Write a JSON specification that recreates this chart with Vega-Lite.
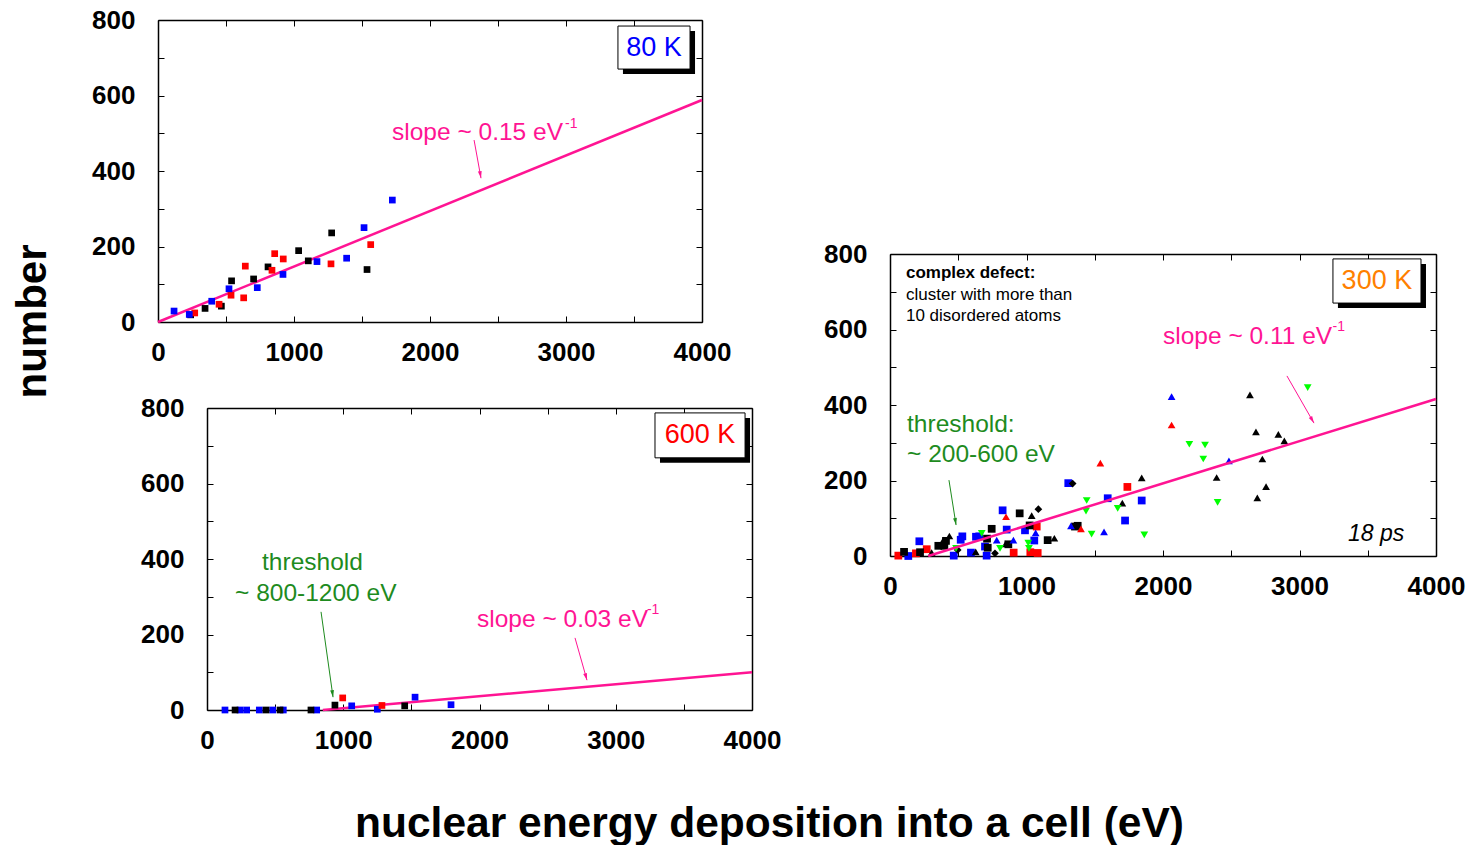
{
  "$schema": "https://vega.github.io/schema/vega-lite/v6.json",
  "width": 1477,
  "height": 845,
  "autosize": "none",
  "padding": 0,
  "background": "white",
  "config": {
    "view": {"stroke": null},
    "font": "Liberation Sans",
    "axis": {
      "domainColor": "black", "domainWidth": 1.5, "tickColor": "black", "tickWidth": 1, "tickSize": -6,
      "labelColor": "black", "labelFont": "Liberation Sans", "labelFontSize": 26, "labelFontWeight": "bold",
      "labelFlush": false, "labelOverlap": false, "grid": false, "titleColor": "black", "titleFont": "Liberation Sans"
    }
  },
  "datasets": {
    "p80": [
      {"set": "set 1", "x": 240, "y": 19}, {"set": "set 1", "x": 346, "y": 36}, {"set": "set 1", "x": 466, "y": 42},
      {"set": "set 1", "x": 541, "y": 109}, {"set": "set 1", "x": 703, "y": 114}, {"set": "set 1", "x": 809, "y": 146},
      {"set": "set 1", "x": 1034, "y": 189}, {"set": "set 1", "x": 1105, "y": 162}, {"set": "set 1", "x": 1277, "y": 236},
      {"set": "set 1", "x": 1537, "y": 139},
      {"set": "set 2", "x": 270, "y": 24}, {"set": "set 2", "x": 449, "y": 47}, {"set": "set 2", "x": 537, "y": 71},
      {"set": "set 2", "x": 630, "y": 64}, {"set": "set 2", "x": 642, "y": 148}, {"set": "set 2", "x": 838, "y": 137},
      {"set": "set 2", "x": 858, "y": 181}, {"set": "set 2", "x": 921, "y": 167}, {"set": "set 2", "x": 1272, "y": 154},
      {"set": "set 2", "x": 1564, "y": 205},
      {"set": "set 3", "x": 118, "y": 29}, {"set": "set 3", "x": 230, "y": 20}, {"set": "set 3", "x": 395, "y": 55},
      {"set": "set 3", "x": 522, "y": 88}, {"set": "set 3", "x": 730, "y": 91}, {"set": "set 3", "x": 919, "y": 126},
      {"set": "set 3", "x": 1169, "y": 160}, {"set": "set 3", "x": 1387, "y": 169}, {"set": "set 3", "x": 1515, "y": 250},
      {"set": "set 3", "x": 1723, "y": 323}
    ],
    "p600": [
      {"set": "set 3", "x": 132, "y": 0}, {"set": "set 3", "x": 242, "y": 0}, {"set": "set 3", "x": 291, "y": 0},
      {"set": "set 3", "x": 384, "y": 0}, {"set": "set 3", "x": 482, "y": 0}, {"set": "set 3", "x": 560, "y": 0},
      {"set": "set 3", "x": 805, "y": 0}, {"set": "set 3", "x": 1062, "y": 11}, {"set": "set 3", "x": 1250, "y": 2},
      {"set": "set 3", "x": 1527, "y": 34}, {"set": "set 3", "x": 1791, "y": 14},
      {"set": "set 1", "x": 206, "y": 0}, {"set": "set 1", "x": 433, "y": 0}, {"set": "set 1", "x": 536, "y": 0},
      {"set": "set 1", "x": 763, "y": 0}, {"set": "set 1", "x": 939, "y": 13}, {"set": "set 1", "x": 1451, "y": 11},
      {"set": "set 2", "x": 996, "y": 32}, {"set": "set 2", "x": 1284, "y": 12}
    ],
    "p300": [
      {"set": "set 3", "kind": "k1", "x": 215, "y": 39}, {"set": "set 3", "kind": "k1", "x": 134, "y": 0},
      {"set": "set 3", "kind": "k1", "x": 530, "y": 52}, {"set": "set 3", "kind": "k1", "x": 518, "y": 43},
      {"set": "set 3", "kind": "k1", "x": 630, "y": 51}, {"set": "set 3", "kind": "k1", "x": 654, "y": 52},
      {"set": "set 3", "kind": "k1", "x": 593, "y": 9}, {"set": "set 3", "kind": "k1", "x": 696, "y": 25},
      {"set": "set 3", "kind": "k1", "x": 708, "y": 1}, {"set": "set 3", "kind": "k1", "x": 467, "y": 1},
      {"set": "set 3", "kind": "k1", "x": 825, "y": 121}, {"set": "set 3", "kind": "k1", "x": 855, "y": 70},
      {"set": "set 3", "kind": "k1", "x": 989, "y": 68}, {"set": "set 3", "kind": "k1", "x": 1057, "y": 41},
      {"set": "set 3", "kind": "k1", "x": 1306, "y": 193}, {"set": "set 3", "kind": "k1", "x": 1595, "y": 153},
      {"set": "set 3", "kind": "k1", "x": 1722, "y": 94}, {"set": "set 3", "kind": "k1", "x": 1844, "y": 147},
      {"set": "set 2", "kind": "k1", "x": 61, "y": 1}, {"set": "set 2", "kind": "k1", "x": 269, "y": 18},
      {"set": "set 2", "kind": "k1", "x": 190, "y": 7}, {"set": "set 2", "kind": "k1", "x": 906, "y": 9},
      {"set": "set 2", "kind": "k1", "x": 1075, "y": 78}, {"set": "set 2", "kind": "k1", "x": 1082, "y": 8},
      {"set": "set 2", "kind": "k1", "x": 1028, "y": 10}, {"set": "set 2", "kind": "k1", "x": 1739, "y": 183},
      {"set": "set 1", "kind": "k1", "x": 103, "y": 11}, {"set": "set 1", "kind": "k1", "x": 220, "y": 10},
      {"set": "set 1", "kind": "k1", "x": 354, "y": 27}, {"set": "set 1", "kind": "k1", "x": 410, "y": 40},
      {"set": "set 1", "kind": "k1", "x": 398, "y": 27}, {"set": "set 1", "kind": "k1", "x": 745, "y": 72},
      {"set": "set 1", "kind": "k1", "x": 711, "y": 46}, {"set": "set 1", "kind": "k1", "x": 716, "y": 22},
      {"set": "set 1", "kind": "k1", "x": 867, "y": 31}, {"set": "set 1", "kind": "k1", "x": 950, "y": 113},
      {"set": "set 1", "kind": "k1", "x": 1023, "y": 81}, {"set": "set 1", "kind": "k1", "x": 1155, "y": 42},
      {"set": "set 1", "kind": "k1", "x": 1355, "y": 78}, {"set": "set 1", "kind": "k1", "x": 1375, "y": 80},
      {"set": "set 1", "kind": "k2", "x": 305, "y": 9}, {"set": "set 1", "kind": "k2", "x": 391, "y": 42},
      {"set": "set 1", "kind": "k2", "x": 435, "y": 53}, {"set": "set 1", "kind": "k2", "x": 628, "y": 11},
      {"set": "set 1", "kind": "k2", "x": 847, "y": 32}, {"set": "set 1", "kind": "k2", "x": 1038, "y": 107},
      {"set": "set 1", "kind": "k2", "x": 1204, "y": 47}, {"set": "set 1", "kind": "k2", "x": 1702, "y": 140},
      {"set": "set 1", "kind": "k2", "x": 1844, "y": 207}, {"set": "set 1", "kind": "k2", "x": 2393, "y": 208},
      {"set": "set 1", "kind": "k2", "x": 2637, "y": 427}, {"set": "set 1", "kind": "k2", "x": 2681, "y": 329},
      {"set": "set 1", "kind": "k2", "x": 2728, "y": 257}, {"set": "set 1", "kind": "k2", "x": 2755, "y": 184},
      {"set": "set 1", "kind": "k2", "x": 2691, "y": 154}, {"set": "set 1", "kind": "k2", "x": 2845, "y": 322},
      {"set": "set 1", "kind": "k2", "x": 2889, "y": 305},
      {"set": "set 1", "kind": "k4", "x": 1087, "y": 124}, {"set": "set 1", "kind": "k4", "x": 1338, "y": 192},
      {"set": "set 1", "kind": "k4", "x": 769, "y": 7}, {"set": "set 1", "kind": "k4", "x": 496, "y": 16},
      {"set": "set 3", "kind": "k2", "x": 782, "y": 42}, {"set": "set 3", "kind": "k2", "x": 904, "y": 42},
      {"set": "set 3", "kind": "k2", "x": 1067, "y": 61}, {"set": "set 3", "kind": "k2", "x": 1326, "y": 80},
      {"set": "set 3", "kind": "k2", "x": 1568, "y": 64}, {"set": "set 3", "kind": "k2", "x": 2063, "y": 422},
      {"set": "set 3", "kind": "k2", "x": 2483, "y": 252},
      {"set": "set 2", "kind": "k2", "x": 850, "y": 104}, {"set": "set 2", "kind": "k2", "x": 1399, "y": 72},
      {"set": "set 2", "kind": "k2", "x": 1541, "y": 246}, {"set": "set 2", "kind": "k2", "x": 2063, "y": 347},
      {"set": "set 4", "kind": "k3", "x": 672, "y": 60}, {"set": "set 4", "kind": "k3", "x": 484, "y": 20},
      {"set": "set 4", "kind": "k3", "x": 806, "y": 20}, {"set": "set 4", "kind": "k3", "x": 1013, "y": 34},
      {"set": "set 4", "kind": "k3", "x": 1018, "y": 20}, {"set": "set 4", "kind": "k3", "x": 1441, "y": 147},
      {"set": "set 4", "kind": "k3", "x": 1436, "y": 119}, {"set": "set 4", "kind": "k3", "x": 1477, "y": 58},
      {"set": "set 4", "kind": "k3", "x": 1668, "y": 126}, {"set": "set 4", "kind": "k3", "x": 1863, "y": 56},
      {"set": "set 4", "kind": "k3", "x": 2193, "y": 296}, {"set": "set 4", "kind": "k3", "x": 2308, "y": 294},
      {"set": "set 4", "kind": "k3", "x": 2295, "y": 257}, {"set": "set 4", "kind": "k3", "x": 2400, "y": 142},
      {"set": "set 4", "kind": "k3", "x": 3060, "y": 446}
    ],
    "fits": [
      {"panel": "80 K", "x": 0, "y": 0}, {"panel": "80 K", "x": 4000, "y": 588},
      {"panel": "600 K", "x": 850, "y": 0}, {"panel": "600 K", "x": 4000, "y": 100},
      {"panel": "300 K", "x": 280, "y": 0}, {"panel": "300 K", "x": 4000, "y": 416}
    ],
    "boxes": [
      {"panel": "80 K", "x": 3382, "x2": 3912, "y": 784, "y2": 670},
      {"panel": "600 K", "x": 3288, "x2": 3949, "y": 787, "y2": 668},
      {"panel": "300 K", "x": 3245, "x2": 3890, "y": 787, "y2": 670}
    ],
    "arrows": [
      {"panel": "80 K", "kind": "slope", "x": 2324, "y": 482, "x2": 2375, "y2": 381},
      {"panel": "600 K", "kind": "slope", "x": 2701, "y": 191, "x2": 2789, "y2": 79},
      {"panel": "600 K", "kind": "threshold", "x": 837, "y": 260, "x2": 925, "y2": 34},
      {"panel": "300 K", "kind": "slope", "x": 2908, "y": 477, "x2": 3106, "y2": 352},
      {"panel": "300 K", "kind": "threshold", "x": 432, "y": 201, "x2": 484, "y2": 82}
    ],
    "notes": [
      {"panel": "80 K", "kind": "temp", "text": "80 K", "x": 3647, "y": 727},
      {"panel": "80 K", "kind": "slope", "text": "slope ~ 0.15 eV", "x": 1721, "y": 501},
      {"panel": "80 K", "kind": "sup", "text": "-1", "x": 2993, "y": 524},
      {"panel": "600 K", "kind": "temp", "text": "600 K", "x": 3618, "y": 728},
      {"panel": "600 K", "kind": "slope", "text": "slope ~ 0.03 eV", "x": 1982, "y": 238},
      {"panel": "600 K", "kind": "sup", "text": "-1", "x": 3229, "y": 265},
      {"panel": "600 K", "kind": "threshold", "text": "threshold", "x": 404, "y": 389},
      {"panel": "600 K", "kind": "threshold", "text": "~ 800-1200 eV", "x": 206, "y": 307},
      {"panel": "300 K", "kind": "temp", "text": "300 K", "x": 3567, "y": 728},
      {"panel": "300 K", "kind": "slope", "text": "slope ~ 0.11 eV", "x": 2000, "y": 580},
      {"panel": "300 K", "kind": "sup", "text": "-1", "x": 3242, "y": 607},
      {"panel": "300 K", "kind": "threshold", "text": "threshold:", "x": 125, "y": 347},
      {"panel": "300 K", "kind": "threshold", "text": "~ 200-600 eV", "x": 125, "y": 268},
      {"panel": "300 K", "kind": "head", "text": "complex defect:", "x": 117, "y": 750},
      {"panel": "300 K", "kind": "info", "text": "cluster with more than", "x": 117, "y": 691},
      {"panel": "300 K", "kind": "info", "text": "10 disordered atoms", "x": 117, "y": 636},
      {"panel": "300 K", "kind": "time", "text": "18 ps", "x": 3355, "y": 58}
    ]
  },
  "resolve": {"scale": {"x": "independent", "y": "independent"}, "axis": {"x": "independent", "y": "independent"}},
  "layer": [
    {
      "resolve": {"axis": {"x": "independent", "y": "independent"}},
      "layer": [
        {
          "data": {"name": "boxes"}, "transform": [{"filter": "datum.panel === '80 K'"}],
          "mark": {"type": "rect", "fill": "black", "xOffset": 5, "x2Offset": 5, "yOffset": 5, "y2Offset": 5},
          "encoding": {
            "x": {"field": "x", "type": "quantitative", "scale": {"domain": [0, 4000], "range": [158, 702], "nice": false, "zero": false}, "axis": null},
            "x2": {"field": "x2"},
            "y": {"field": "y", "type": "quantitative", "scale": {"domain": [0, 800], "range": [322, 20], "nice": false, "zero": false}, "axis": null},
            "y2": {"field": "y2"}
          }
        },
        {
          "data": {"name": "boxes"}, "transform": [{"filter": "datum.panel === '80 K'"}],
          "mark": {"type": "rect", "fill": "white", "stroke": "black", "strokeWidth": 1},
          "encoding": {
            "x": {"field": "x", "type": "quantitative", "axis": null}, "x2": {"field": "x2"},
            "y": {"field": "y", "type": "quantitative", "axis": null}, "y2": {"field": "y2"}
          }
        },
        {
          "data": {"name": "fits"}, "transform": [{"filter": "datum.panel === '80 K'"}],
          "mark": {"type": "line", "color": "#FF1493", "strokeWidth": 2.5},
          "encoding": {
            "x": {"field": "x", "type": "quantitative", "axis": {"orient": "top", "offset": -20, "values": [0, 500, 1000, 1500, 2000, 2500, 3000, 3500, 4000], "labels": false, "title": null}},
            "y": {"field": "y", "type": "quantitative", "axis": {"orient": "right", "offset": -775, "values": [0, 100, 200, 300, 400, 500, 600, 700, 800], "labels": false, "title": null}}
          }
        },
        {
          "data": {"name": "p80"},
          "mark": {"type": "point", "shape": "square", "filled": true, "opacity": 1, "size": 45},
          "encoding": {
            "x": {"field": "x", "type": "quantitative", "axis": {"orient": "bottom", "offset": -523, "values": [0, 500, 1000, 1500, 2000, 2500, 3000, 3500, 4000], "labelExpr": "datum.value % 1000 === 0 ? datum.label : ''", "format": "d", "labelPadding": 23, "labelDx": 4, "title": null}},
            "y": {"field": "y", "type": "quantitative", "axis": {"orient": "left", "offset": -158, "values": [0, 100, 200, 300, 400, 500, 600, 700, 800], "labelExpr": "datum.value % 200 === 0 ? datum.label : ''", "format": "d", "labelPadding": 29,
              "title": "number", "titleX": -113, "titleY": 321, "titleAngle": 270, "titleAlign": "center", "titleBaseline": "alphabetic", "titleFontSize": 42, "titleFontWeight": "bold"}},
            "color": {"field": "set", "type": "nominal", "scale": {"domain": ["set 1", "set 2", "set 3", "set 4"], "range": ["#000000", "#FF0000", "#0000FF", "#00FF00"]}, "legend": null}
          }
        },
        {
          "data": {"name": "arrows"}, "transform": [{"filter": "datum.panel === '80 K'"}],
          "mark": {"type": "rule", "color": "#FF1493", "strokeWidth": 1},
          "encoding": {
            "x": {"field": "x", "type": "quantitative", "axis": null}, "x2": {"field": "x2"},
            "y": {"field": "y", "type": "quantitative", "axis": null}, "y2": {"field": "y2"}
          }
        },
        {
          "data": {"name": "arrows"}, "transform": [{"filter": "datum.panel === '80 K'"}],
          "mark": {"type": "point", "shape": "M0,0L-0.55,2L0.55,2Z", "filled": true, "opacity": 1, "color": "#FF1493", "size": 49, "angle": 170},
          "encoding": {
            "x": {"field": "x2", "type": "quantitative", "axis": null},
            "y": {"field": "y2", "type": "quantitative", "axis": null}
          }
        },
        {
          "data": {"name": "notes"}, "transform": [{"filter": "datum.panel === '80 K' && datum.kind === 'temp'"}],
          "mark": {"type": "text", "color": "#0000FF", "fontSize": 27, "align": "center", "baseline": "middle"},
          "encoding": {
            "x": {"field": "x", "type": "quantitative", "axis": null},
            "y": {"field": "y", "type": "quantitative", "axis": null},
            "text": {"field": "text"}
          }
        },
        {
          "data": {"name": "notes"}, "transform": [{"filter": "datum.panel === '80 K' && datum.kind === 'slope'"}],
          "mark": {"type": "text", "color": "#FF1493", "fontSize": 24.5, "align": "left", "baseline": "middle"},
          "encoding": {
            "x": {"field": "x", "type": "quantitative", "axis": null},
            "y": {"field": "y", "type": "quantitative", "axis": null},
            "text": {"field": "text"}
          }
        },
        {
          "data": {"name": "notes"}, "transform": [{"filter": "datum.panel === '80 K' && datum.kind === 'sup'"}],
          "mark": {"type": "text", "color": "#FF1493", "fontSize": 14, "align": "left", "baseline": "middle"},
          "encoding": {
            "x": {"field": "x", "type": "quantitative", "axis": null},
            "y": {"field": "y", "type": "quantitative", "axis": null},
            "text": {"field": "text"}
          }
        }
      ]
    },
    {
      "resolve": {"axis": {"x": "independent", "y": "independent"}},
      "layer": [
        {
          "data": {"name": "boxes"}, "transform": [{"filter": "datum.panel === '600 K'"}],
          "mark": {"type": "rect", "fill": "black", "xOffset": 5, "x2Offset": 5, "yOffset": 5, "y2Offset": 5},
          "encoding": {
            "x": {"field": "x", "type": "quantitative", "scale": {"domain": [0, 4000], "range": [207, 752], "nice": false, "zero": false}, "axis": null},
            "x2": {"field": "x2"},
            "y": {"field": "y", "type": "quantitative", "scale": {"domain": [0, 800], "range": [710, 408], "nice": false, "zero": false}, "axis": null},
            "y2": {"field": "y2"}
          }
        },
        {
          "data": {"name": "boxes"}, "transform": [{"filter": "datum.panel === '600 K'"}],
          "mark": {"type": "rect", "fill": "white", "stroke": "black", "strokeWidth": 1},
          "encoding": {
            "x": {"field": "x", "type": "quantitative", "axis": null}, "x2": {"field": "x2"},
            "y": {"field": "y", "type": "quantitative", "axis": null}, "y2": {"field": "y2"}
          }
        },
        {
          "data": {"name": "fits"}, "transform": [{"filter": "datum.panel === '600 K'"}],
          "mark": {"type": "line", "color": "#FF1493", "strokeWidth": 2.5},
          "encoding": {
            "x": {"field": "x", "type": "quantitative", "axis": {"orient": "top", "offset": -408, "values": [0, 500, 1000, 1500, 2000, 2500, 3000, 3500, 4000], "labels": false, "title": null}},
            "y": {"field": "y", "type": "quantitative", "axis": {"orient": "right", "offset": -725, "values": [0, 100, 200, 300, 400, 500, 600, 700, 800], "labels": false, "title": null}}
          }
        },
        {
          "data": {"name": "p600"},
          "mark": {"type": "point", "shape": "square", "filled": true, "opacity": 1, "size": 45},
          "encoding": {
            "x": {"field": "x", "type": "quantitative", "axis": {"orient": "bottom", "offset": -135, "values": [0, 500, 1000, 1500, 2000, 2500, 3000, 3500, 4000], "labelExpr": "datum.value % 1000 === 0 ? datum.label : ''", "format": "d", "labelPadding": 23, "labelDx": 4,
              "title": "nuclear energy deposition into a cell (eV)", "titleX": 769, "titleY": 126, "titleAlign": "center", "titleBaseline": "alphabetic", "titleFontSize": 42.5, "titleFontWeight": "bold"}},
            "y": {"field": "y", "type": "quantitative", "axis": {"orient": "left", "offset": -207, "values": [0, 100, 200, 300, 400, 500, 600, 700, 800], "labelExpr": "datum.value % 200 === 0 ? datum.label : ''", "format": "d", "labelPadding": 29, "title": null}},
            "color": {"field": "set", "type": "nominal", "legend": null}
          }
        },
        {
          "data": {"name": "arrows"}, "transform": [{"filter": "datum.panel === '600 K' && datum.kind === 'slope'"}],
          "mark": {"type": "rule", "color": "#FF1493", "strokeWidth": 1},
          "encoding": {
            "x": {"field": "x", "type": "quantitative", "axis": null}, "x2": {"field": "x2"},
            "y": {"field": "y", "type": "quantitative", "axis": null}, "y2": {"field": "y2"}
          }
        },
        {
          "data": {"name": "arrows"}, "transform": [{"filter": "datum.panel === '600 K' && datum.kind === 'slope'"}],
          "mark": {"type": "point", "shape": "M0,0L-0.55,2L0.55,2Z", "filled": true, "opacity": 1, "color": "#FF1493", "size": 49, "angle": 164},
          "encoding": {
            "x": {"field": "x2", "type": "quantitative", "axis": null},
            "y": {"field": "y2", "type": "quantitative", "axis": null}
          }
        },
        {
          "data": {"name": "arrows"}, "transform": [{"filter": "datum.panel === '600 K' && datum.kind === 'threshold'"}],
          "mark": {"type": "rule", "color": "#1E8B1E", "strokeWidth": 1},
          "encoding": {
            "x": {"field": "x", "type": "quantitative", "axis": null}, "x2": {"field": "x2"},
            "y": {"field": "y", "type": "quantitative", "axis": null}, "y2": {"field": "y2"}
          }
        },
        {
          "data": {"name": "arrows"}, "transform": [{"filter": "datum.panel === '600 K' && datum.kind === 'threshold'"}],
          "mark": {"type": "point", "shape": "M0,0L-0.55,2L0.55,2Z", "filled": true, "opacity": 1, "color": "#1E8B1E", "size": 49, "angle": 172},
          "encoding": {
            "x": {"field": "x2", "type": "quantitative", "axis": null},
            "y": {"field": "y2", "type": "quantitative", "axis": null}
          }
        },
        {
          "data": {"name": "notes"}, "transform": [{"filter": "datum.panel === '600 K' && datum.kind === 'temp'"}],
          "mark": {"type": "text", "color": "#FF0000", "fontSize": 27, "align": "center", "baseline": "middle"},
          "encoding": {
            "x": {"field": "x", "type": "quantitative", "axis": null},
            "y": {"field": "y", "type": "quantitative", "axis": null},
            "text": {"field": "text"}
          }
        },
        {
          "data": {"name": "notes"}, "transform": [{"filter": "datum.panel === '600 K' && datum.kind === 'slope'"}],
          "mark": {"type": "text", "color": "#FF1493", "fontSize": 24.5, "align": "left", "baseline": "middle"},
          "encoding": {
            "x": {"field": "x", "type": "quantitative", "axis": null},
            "y": {"field": "y", "type": "quantitative", "axis": null},
            "text": {"field": "text"}
          }
        },
        {
          "data": {"name": "notes"}, "transform": [{"filter": "datum.panel === '600 K' && datum.kind === 'sup'"}],
          "mark": {"type": "text", "color": "#FF1493", "fontSize": 14, "align": "left", "baseline": "middle"},
          "encoding": {
            "x": {"field": "x", "type": "quantitative", "axis": null},
            "y": {"field": "y", "type": "quantitative", "axis": null},
            "text": {"field": "text"}
          }
        },
        {
          "data": {"name": "notes"}, "transform": [{"filter": "datum.panel === '600 K' && datum.kind === 'threshold'"}],
          "mark": {"type": "text", "color": "#1E8B1E", "fontSize": 24.5, "align": "left", "baseline": "middle"},
          "encoding": {
            "x": {"field": "x", "type": "quantitative", "axis": null},
            "y": {"field": "y", "type": "quantitative", "axis": null},
            "text": {"field": "text"}
          }
        }
      ]
    },
    {
      "resolve": {"axis": {"x": "independent", "y": "independent"}},
      "layer": [
        {
          "data": {"name": "boxes"}, "transform": [{"filter": "datum.panel === '300 K'"}],
          "mark": {"type": "rect", "fill": "black", "xOffset": 5, "x2Offset": 5, "yOffset": 5, "y2Offset": 5},
          "encoding": {
            "x": {"field": "x", "type": "quantitative", "scale": {"domain": [0, 4000], "range": [890, 1436], "nice": false, "zero": false}, "axis": null},
            "x2": {"field": "x2"},
            "y": {"field": "y", "type": "quantitative", "scale": {"domain": [0, 800], "range": [556, 254], "nice": false, "zero": false}, "axis": null},
            "y2": {"field": "y2"}
          }
        },
        {
          "data": {"name": "boxes"}, "transform": [{"filter": "datum.panel === '300 K'"}],
          "mark": {"type": "rect", "fill": "white", "stroke": "black", "strokeWidth": 1},
          "encoding": {
            "x": {"field": "x", "type": "quantitative", "axis": null}, "x2": {"field": "x2"},
            "y": {"field": "y", "type": "quantitative", "axis": null}, "y2": {"field": "y2"}
          }
        },
        {
          "data": {"name": "p300"},
          "mark": {"type": "point", "filled": true, "opacity": 1, "size": 60},
          "encoding": {
            "x": {"field": "x", "type": "quantitative", "axis": {"orient": "bottom", "offset": -289, "values": [0, 500, 1000, 1500, 2000, 2500, 3000, 3500, 4000], "labelExpr": "datum.value % 1000 === 0 ? datum.label : ''", "format": "d", "labelPadding": 23, "labelDx": 4, "title": null}},
            "y": {"field": "y", "type": "quantitative", "axis": {"orient": "left", "offset": -890, "values": [0, 100, 200, 300, 400, 500, 600, 700, 800], "labelExpr": "datum.value % 200 === 0 ? datum.label : ''", "format": "d", "labelPadding": 29, "title": null}},
            "color": {"field": "set", "type": "nominal", "legend": null},
            "shape": {"field": "kind", "type": "nominal", "scale": {"domain": ["k1", "k2", "k3", "k4"], "range": ["square", "triangle-up", "triangle-down", "diamond"]}, "legend": null}
          }
        },
        {
          "data": {"name": "fits"}, "transform": [{"filter": "datum.panel === '300 K'"}],
          "mark": {"type": "line", "color": "#FF1493", "strokeWidth": 2.5},
          "encoding": {
            "x": {"field": "x", "type": "quantitative", "axis": {"orient": "top", "offset": -254, "values": [0, 500, 1000, 1500, 2000, 2500, 3000, 3500, 4000], "labels": false, "title": null}},
            "y": {"field": "y", "type": "quantitative", "axis": {"orient": "right", "offset": -41, "values": [0, 100, 200, 300, 400, 500, 600, 700, 800], "labels": false, "title": null}}
          }
        },
        {
          "data": {"name": "arrows"}, "transform": [{"filter": "datum.panel === '300 K' && datum.kind === 'slope'"}],
          "mark": {"type": "rule", "color": "#FF1493", "strokeWidth": 1},
          "encoding": {
            "x": {"field": "x", "type": "quantitative", "axis": null}, "x2": {"field": "x2"},
            "y": {"field": "y", "type": "quantitative", "axis": null}, "y2": {"field": "y2"}
          }
        },
        {
          "data": {"name": "arrows"}, "transform": [{"filter": "datum.panel === '300 K' && datum.kind === 'slope'"}],
          "mark": {"type": "point", "shape": "M0,0L-0.55,2L0.55,2Z", "filled": true, "opacity": 1, "color": "#FF1493", "size": 49, "angle": 150},
          "encoding": {
            "x": {"field": "x2", "type": "quantitative", "axis": null},
            "y": {"field": "y2", "type": "quantitative", "axis": null}
          }
        },
        {
          "data": {"name": "arrows"}, "transform": [{"filter": "datum.panel === '300 K' && datum.kind === 'threshold'"}],
          "mark": {"type": "rule", "color": "#1E8B1E", "strokeWidth": 1},
          "encoding": {
            "x": {"field": "x", "type": "quantitative", "axis": null}, "x2": {"field": "x2"},
            "y": {"field": "y", "type": "quantitative", "axis": null}, "y2": {"field": "y2"}
          }
        },
        {
          "data": {"name": "arrows"}, "transform": [{"filter": "datum.panel === '300 K' && datum.kind === 'threshold'"}],
          "mark": {"type": "point", "shape": "M0,0L-0.55,2L0.55,2Z", "filled": true, "opacity": 1, "color": "#1E8B1E", "size": 49, "angle": 171},
          "encoding": {
            "x": {"field": "x2", "type": "quantitative", "axis": null},
            "y": {"field": "y2", "type": "quantitative", "axis": null}
          }
        },
        {
          "data": {"name": "notes"}, "transform": [{"filter": "datum.panel === '300 K' && datum.kind === 'temp'"}],
          "mark": {"type": "text", "color": "#FF8000", "fontSize": 27, "align": "center", "baseline": "middle"},
          "encoding": {
            "x": {"field": "x", "type": "quantitative", "axis": null},
            "y": {"field": "y", "type": "quantitative", "axis": null},
            "text": {"field": "text"}
          }
        },
        {
          "data": {"name": "notes"}, "transform": [{"filter": "datum.panel === '300 K' && datum.kind === 'slope'"}],
          "mark": {"type": "text", "color": "#FF1493", "fontSize": 24.5, "align": "left", "baseline": "middle"},
          "encoding": {
            "x": {"field": "x", "type": "quantitative", "axis": null},
            "y": {"field": "y", "type": "quantitative", "axis": null},
            "text": {"field": "text"}
          }
        },
        {
          "data": {"name": "notes"}, "transform": [{"filter": "datum.panel === '300 K' && datum.kind === 'sup'"}],
          "mark": {"type": "text", "color": "#FF1493", "fontSize": 14, "align": "left", "baseline": "middle"},
          "encoding": {
            "x": {"field": "x", "type": "quantitative", "axis": null},
            "y": {"field": "y", "type": "quantitative", "axis": null},
            "text": {"field": "text"}
          }
        },
        {
          "data": {"name": "notes"}, "transform": [{"filter": "datum.panel === '300 K' && datum.kind === 'threshold'"}],
          "mark": {"type": "text", "color": "#1E8B1E", "fontSize": 24.5, "align": "left", "baseline": "middle"},
          "encoding": {
            "x": {"field": "x", "type": "quantitative", "axis": null},
            "y": {"field": "y", "type": "quantitative", "axis": null},
            "text": {"field": "text"}
          }
        },
        {
          "data": {"name": "notes"}, "transform": [{"filter": "datum.panel === '300 K' && datum.kind === 'head'"}],
          "mark": {"type": "text", "color": "black", "fontSize": 17, "fontWeight": "bold", "align": "left", "baseline": "middle"},
          "encoding": {
            "x": {"field": "x", "type": "quantitative", "axis": null},
            "y": {"field": "y", "type": "quantitative", "axis": null},
            "text": {"field": "text"}
          }
        },
        {
          "data": {"name": "notes"}, "transform": [{"filter": "datum.panel === '300 K' && datum.kind === 'info'"}],
          "mark": {"type": "text", "color": "black", "fontSize": 17, "align": "left", "baseline": "middle"},
          "encoding": {
            "x": {"field": "x", "type": "quantitative", "axis": null},
            "y": {"field": "y", "type": "quantitative", "axis": null},
            "text": {"field": "text"}
          }
        },
        {
          "data": {"name": "notes"}, "transform": [{"filter": "datum.panel === '300 K' && datum.kind === 'time'"}],
          "mark": {"type": "text", "color": "black", "fontSize": 23, "fontStyle": "italic", "align": "left", "baseline": "middle"},
          "encoding": {
            "x": {"field": "x", "type": "quantitative", "axis": null},
            "y": {"field": "y", "type": "quantitative", "axis": null},
            "text": {"field": "text"}
          }
        }
      ]
    }
  ]
}
